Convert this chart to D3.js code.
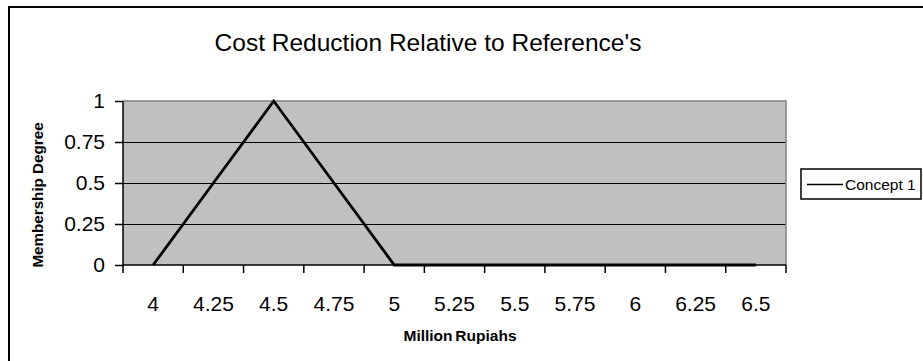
<!DOCTYPE html>
<html><head><meta charset="utf-8">
<script src="https://cdn.jsdelivr.net/npm/d3@7"></script>
<style>body{margin:0;background:#fff}svg{display:block;font-family:"Liberation Sans",Arial,sans-serif}</style>
</head><body><svg id="c" width="923" height="361"></svg>
<script>
const categories = ["4","4.25","4.5","4.75","5","5.25","5.5","5.75","6","6.25","6.5"];
const concept1 = [0,0.5,1,0.5,0,0,0,0,0,0,0];
const yTicks = [0,0.25,0.5,0.75,1];
const yTickLabels = ["0","0.25","0.5","0.75","1"];
const seriesName = "Concept 1";
const title = "Cost Reduction Relative to Reference's";
const xTitle = "Million Rupiahs";
const yTitle = "Membership Degree";

const svg = d3.select("#c");
const L = 123, R = 786, T = 101, B = 265;
const x = d3.scaleBand().domain(categories).range([L, R]).paddingInner(0).paddingOuter(0);
const y = d3.scaleLinear().domain([0,1]).range([B, T]);

// outer frame (top + left visible)
svg.append("path").attr("d", `M9,1000 L9,7 L2000,7`).attr("fill","none").attr("stroke","#000").attr("stroke-width",2);

// plot area
svg.append("rect").attr("x",L).attr("y",T).attr("width",R-L).attr("height",B-T).attr("fill","#c0c0c0");
// gridlines
svg.append("g").selectAll("line").data(yTicks.filter(d=>d>0 && d<1)).join("line")
  .attr("x1",L).attr("x2",R).attr("y1",d=>Math.round(y(d))+0.5).attr("y2",d=>Math.round(y(d))+0.5)
  .attr("stroke","#000").attr("stroke-width",1).attr("shape-rendering","crispEdges");
// plot border top/right grey
svg.append("path").attr("d",`M${L},${T} L${R},${T} L${R},${B}`).attr("fill","none").attr("stroke","#808080").attr("stroke-width",1.5);

// y axis
const yAxis = d3.axisLeft(y).tickValues(yTicks).tickFormat((d,i)=>yTickLabels[i]).tickSize(8).tickPadding(10);
const gy = svg.append("g").attr("transform",`translate(${L},0)`).call(yAxis);
gy.select(".domain").attr("stroke","#000").attr("stroke-width",1.5).attr("d",`M0,${T}V${B}`);
gy.selectAll(".tick line").attr("stroke","#000").attr("stroke-width",1.5);
gy.selectAll("text").attr("font-size",21).attr("fill","#000").attr("font-family","Liberation Sans, Arial, sans-serif");

// x axis: ticks at category boundaries
const boundaries = categories.map(c=>x(c)).concat([R]);
const gx = svg.append("g");
gx.append("line").attr("x1",L).attr("x2",R).attr("y1",B).attr("y2",B).attr("stroke","#000").attr("stroke-width",1.5);
gx.selectAll("line.tk").data(boundaries).join("line").attr("class","tk")
  .attr("x1",d=>d).attr("x2",d=>d).attr("y1",B).attr("y2",B+8).attr("stroke","#000").attr("stroke-width",1.5);
gx.selectAll("text").data(categories).join("text")
  .attr("x",d=>x(d)+x.bandwidth()/2).attr("y",311).attr("text-anchor","middle")
  .attr("font-size",21).attr("fill","#000").text(d=>d);

// series line
const line = d3.line().x((d,i)=>x(categories[i])+x.bandwidth()/2).y(d=>y(d));
svg.append("path").datum(concept1).attr("d",line).attr("fill","none").attr("stroke","#000").attr("stroke-width",2.8).attr("stroke-linejoin","miter");

// titles
svg.append("text").attr("x",428).attr("y",51).attr("text-anchor","middle").attr("font-size",24.5).attr("fill","#000").text(title);
svg.append("text").attr("x",460).attr("y",341).attr("text-anchor","middle").attr("font-size",15.5).attr("font-weight","bold").attr("word-spacing",-1.5).attr("fill","#000").text(xTitle);
svg.append("text").attr("transform","translate(43,195) rotate(-90)").attr("text-anchor","middle").attr("font-size",15.2).attr("font-weight","bold").attr("fill","#000").text(yTitle);

// legend
const lg = svg.append("g");
lg.append("rect").attr("x",801).attr("y",169).attr("width",120).attr("height",30).attr("fill","#fff").attr("stroke","#000").attr("stroke-width",1.5);
lg.append("line").attr("x1",807).attr("x2",843).attr("y1",184.5).attr("y2",184.5).attr("stroke","#000").attr("stroke-width",1.5);
lg.append("text").attr("x",845).attr("y",190).attr("font-size",15.5).attr("fill","#000").text(seriesName);
</script></body></html>
